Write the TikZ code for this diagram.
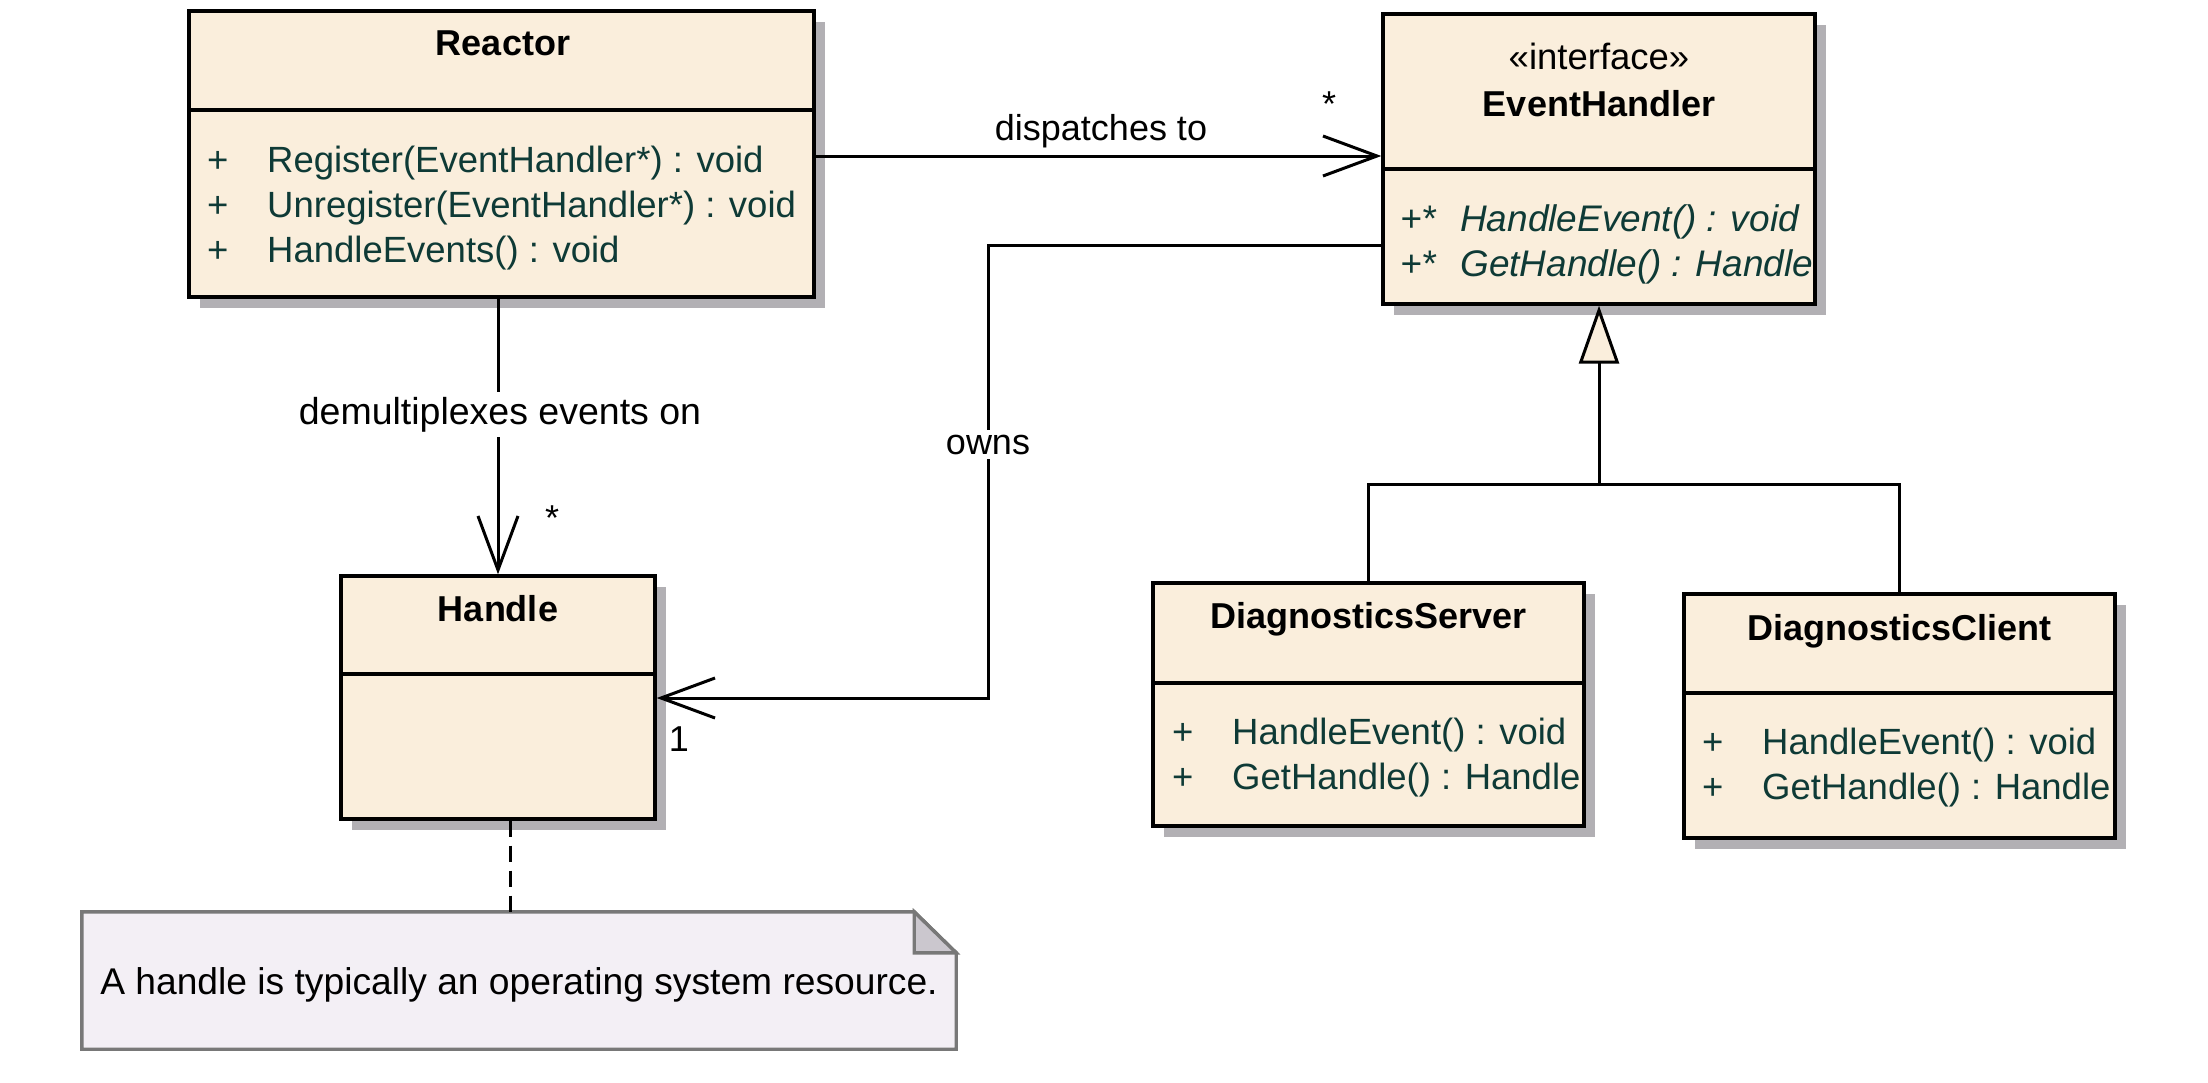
\documentclass[tikz,border=0pt]{standalone}
\usepackage{fontspec}
\setmainfont{Liberation Sans}
\usetikzlibrary{arrows.meta,shadows}
\definecolor{boxfill}{RGB}{250,238,220}
\definecolor{shadowgray}{RGB}{178,176,180}
\definecolor{methcol}{RGB}{14,58,54}
\definecolor{notefill}{RGB}{243,239,245}
\definecolor{noteedge}{RGB}{120,120,120}
\definecolor{foldfill}{RGB}{203,199,206}
\begin{document}
\begin{tikzpicture}[x=1pt,y=-1pt,
  font=\fontsize{36}{45}\selectfont,
  classbox/.style={draw=black, line width=3.4pt, fill=boxfill, rectangle, inner sep=0pt,
    drop shadow={shadow xshift=11pt, shadow yshift=-11pt, fill=shadowgray, opacity=1}},
  sepline/.style={draw=black, line width=3.4pt},
  ctitle/.style={anchor=base, inner sep=0pt, font=\fontsize{36}{45}\selectfont\bfseries},
  stereo/.style={anchor=base, inner sep=0pt, font=\fontsize{36.5}{45}\selectfont},
  vis/.style={anchor=base west, inner sep=0pt, text=methcol, font=\fontsize{36.5}{45}\selectfont},
  meth/.style={anchor=base west, inner sep=0pt, text=methcol, font=\fontsize{36.5}{45}\selectfont},
  ameth/.style={anchor=base west, inner sep=0pt, text=methcol, font=\fontsize{37}{45}\selectfont\itshape},
  assoc/.style={draw=black, line width=3pt, -{Straight Barb[length=54pt, width=40pt]}},
  gen/.style={draw=black, line width=3pt, -{Triangle[length=58pt, width=40pt, fill=boxfill]}},
  plainline/.style={draw=black, line width=3pt},
  notelink/.style={draw=black, line width=3pt, dash pattern=on 16pt off 9pt},
  lab/.style={anchor=base, inner sep=0pt},
  blab/.style={anchor=base, inner sep=5pt, fill=white},
  noteline/.style={draw=noteedge, line width=3.4pt},
]
\useasboundingbox (0,0) rectangle (2208,1082);

% ---------- Reactor ----------
\node[classbox, minimum width=625pt, minimum height=286pt] (reactor) at (501.5,154) {};
\draw[sepline] (reactor.west |- 0,110) -- (reactor.east |- 0,110);
\node[ctitle] (reactorT) at (503,55) {Reactor};
\node[vis] (rv1) at (207,172) {+};
\node[meth] (rm1) at (267,172) {Register(EventHandler*) : void};
\node[vis] (rv2) at (207,217) {+};
\node[meth] (rm2) at (267,217) {Unregister(EventHandler*) : void};
\node[vis] (rv3) at (207,262) {+};
\node[meth] (rm3) at (267,262) {HandleEvents() : void};

% ---------- EventHandler ----------
\node[classbox, minimum width=432pt, minimum height=290pt] (eh) at (1599,159) {};
\draw[sepline] (eh.west |- 0,169) -- (eh.east |- 0,169);
\node[stereo] (ehS) at (1599,69) {«interface»};
\node[ctitle] (ehT) at (1599,116) {EventHandler};
\node[ameth] (ev1) at (1400,231) {+*};
\node[ameth] (em1) at (1460,231) {HandleEvent() : void};
\node[ameth] (ev2) at (1400,276) {+*};
\node[ameth] (em2) at (1460,276) {GetHandle() : Handle};

% ---------- Handle ----------
\node[classbox, minimum width=314pt, minimum height=243pt] (handle) at (498,697.5) {};
\draw[sepline] (handle.west |- 0,674) -- (handle.east |- 0,674);
\node[ctitle] (handleT) at (498,621) {Handle};

% ---------- DiagnosticsServer ----------
\node[classbox, minimum width=431pt, minimum height=243pt] (ds) at (1368.5,704.5) {};
\draw[sepline] (ds.west |- 0,683) -- (ds.east |- 0,683);
\node[ctitle] (dsT) at (1368.5,628) {DiagnosticsServer};
\node[vis] (dv1) at (1172,744) {+};
\node[meth] (dm1) at (1232,744) {HandleEvent() : void};
\node[vis] (dv2) at (1172,789) {+};
\node[meth] (dm2) at (1232,789) {GetHandle() : Handle};

% ---------- DiagnosticsClient ----------
\node[classbox, minimum width=431pt, minimum height=244pt] (dc) at (1899.5,716) {};
\draw[sepline] (dc.west |- 0,693) -- (dc.east |- 0,693);
\node[ctitle] (dcT) at (1899.5,640) {DiagnosticsClient};
\node[vis] (cv1) at (1702,754) {+};
\node[meth] (cm1) at (1762,754) {HandleEvent() : void};
\node[vis] (cv2) at (1702,799) {+};
\node[meth] (cm2) at (1762,799) {GetHandle() : Handle};

% ---------- Note ----------
\node[minimum width=874pt, minimum height=137pt, inner sep=0pt] (note) at (519,980.5) {};
\draw[noteline, fill=notefill] (note.north west) -- ([xshift=-42pt]note.north east)
  -- ([yshift=-41pt]note.north east) -- (note.south east) -- (note.south west) -- cycle;
\draw[noteline, fill=foldfill] ([xshift=-42pt]note.north east)
  -- ([xshift=-42pt,yshift=-41pt]note.north east) -- ([yshift=-41pt]note.north east) -- cycle;
\node[lab, font=\fontsize{37.2}{45}\selectfont] (noteT) at (519,994) {A handle is typically an operating system resource.};

% ---------- Connectors ----------
% dispatches to
\draw[assoc] (reactor.east |- 0,156) -- (eh.west |- 0,156);
\node[lab] (dispL) at (1101,140) {dispatches to};
\node[lab] (dispM) at (1329,116) {*};

% demultiplexes events on
\draw[assoc] (reactor.south -| handle.north) -- (handle.north);
\node[blab, font=\fontsize{37.5}{45}\selectfont] (demuxL) at (500,424) {demultiplexes events on};
\node[lab] (demuxM) at (552,530) {*};

% owns
\coordinate (ownsA) at (988,245);
\coordinate (ownsB) at (988,698);
\draw[assoc] (eh.west |- ownsA) -- (ownsA) -- (ownsB) -- (handle.east |- ownsB);
\node[blab] (ownsL) at (988,454) {owns};
\node[lab] (ownsM) at (679,751) {1};

% generalization
\coordinate (junc) at (1599,484);
\draw[plainline] (ds.north) |- (junc);
\draw[plainline] (dc.north) |- (junc);
\draw[gen] (junc) -- (eh.south);

% note link
\draw[notelink] (handle.south -| 510,0) -- (note.north -| 510,0);
\end{tikzpicture}
\end{document}
